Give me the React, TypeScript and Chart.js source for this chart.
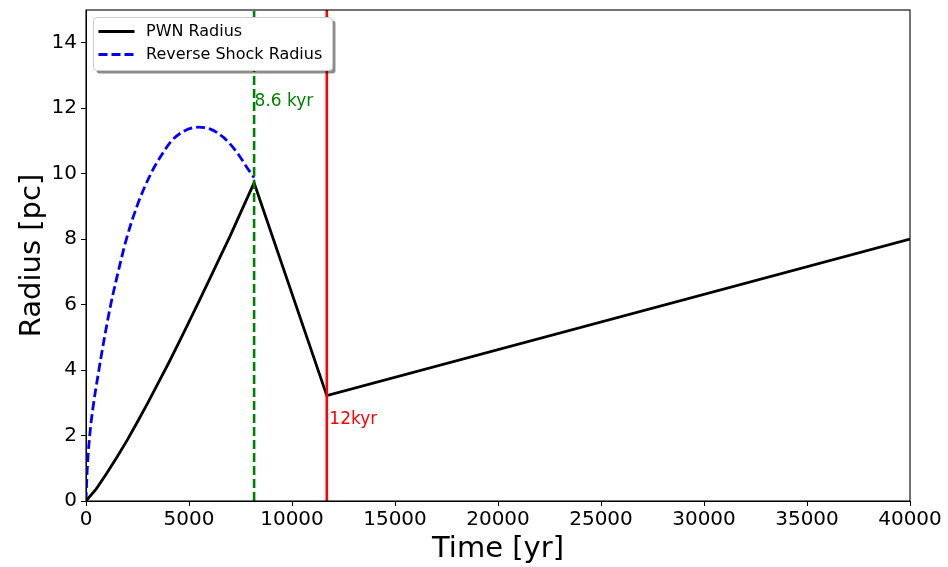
import React, { useEffect, useRef } from "react";
import { Chart, registerables } from "chart.js";

Chart.register(...registerables);

// ---- data ----
const pwnTime = [0, 500, 1000, 1500, 2000, 2500, 3000, 3500, 4000, 4500, 5000, 5500, 6000, 6500, 7000, 7500, 8160, 11690, 40000];
const pwnRadius = [0, 0.37, 0.84, 1.34, 1.86, 2.42, 3.0, 3.6, 4.2, 4.83, 5.47, 6.12, 6.78, 7.44, 8.1, 8.8, 9.72, 3.22, 8.0];

const rsTime = [0, 50, 180, 350, 560, 870, 1200, 1450, 1960, 2500, 3150, 3700, 4150, 4700, 5450, 6040, 6690, 7340, 7820, 8160];
const rsRadius = [0, 0.85, 2.0, 2.9, 3.75, 4.9, 6.0, 6.7, 8.0, 9.05, 10.0, 10.6, 11.0, 11.28, 11.42, 11.36, 11.1, 10.64, 10.18, 9.88];

const greenLineTime = 8160;
const redLineTime = 11690;
const greenLabel = "8.6 kyr";
const greenLabelY = 12.2;
const redLabel = "12kyr";
const redLabelY = 2.48;

const xTicks = [0, 5000, 10000, 15000, 20000, 25000, 30000, 35000, 40000];
const yTicks = [0, 2, 4, 6, 8, 10, 12, 14];
const xTitle = "Time [yr]";
const yTitle = "Radius [pc]";
const legendLabels = ["PWN Radius", "Reverse Shock Radius"];

const FONT = "'DejaVu Sans', 'Liberation Sans', sans-serif";

export default function App() {
  const ref = useRef<HTMLCanvasElement | null>(null);

  useEffect(() => {
    const canvas = ref.current;
    if (!canvas) return;

    const overlay = {
      id: "overlay",
      afterDraw(chart: any) {
        const { ctx, chartArea, scales } = chart;
        const xs = scales.x;
        const ys = scales.y;
        ctx.save();
        // frame
        ctx.strokeStyle = "#000";
        ctx.lineWidth = 1.1;
        ctx.strokeRect(chartArea.left, chartArea.top, chartArea.right - chartArea.left, chartArea.bottom - chartArea.top);

        // annotations
        ctx.font = `17px ${FONT}`;
        ctx.textBaseline = "middle";
        ctx.textAlign = "left";
        ctx.fillStyle = "#008000";
        ctx.fillText(greenLabel, xs.getPixelForValue(greenLineTime) + 0.5, ys.getPixelForValue(greenLabelY));
        ctx.fillStyle = "#ff0000";
        ctx.fillText(redLabel, xs.getPixelForValue(redLineTime) + 2.5, ys.getPixelForValue(redLabelY));

        // axis titles
        ctx.fillStyle = "#000";
        ctx.font = `29px ${FONT}`;
        ctx.textAlign = "center";
        ctx.textBaseline = "middle";
        ctx.fillText(xTitle, (chartArea.left + chartArea.right) / 2, 549);
        ctx.save();
        ctx.translate(32, (chartArea.top + chartArea.bottom) / 2);
        ctx.rotate(-Math.PI / 2);
        ctx.fillText(yTitle, 0, 0);
        ctx.restore();

        // legend
        const lx = 93.5, ly = 17.5, lw = 239, lh = 53, r = 3;
        const rr = (x: number, y: number, w: number, h: number) => {
          ctx.beginPath();
          ctx.moveTo(x + r, y);
          ctx.lineTo(x + w - r, y);
          ctx.quadraticCurveTo(x + w, y, x + w, y + r);
          ctx.lineTo(x + w, y + h - r);
          ctx.quadraticCurveTo(x + w, y + h, x + w - r, y + h);
          ctx.lineTo(x + r, y + h);
          ctx.quadraticCurveTo(x, y + h, x, y + h - r);
          ctx.lineTo(x, y + r);
          ctx.quadraticCurveTo(x, y, x + r, y);
          ctx.closePath();
        };
        rr(lx + 3, ly + 3, lw, lh);
        ctx.fillStyle = "rgba(0,0,0,0.45)";
        ctx.fill();
        rr(lx, ly, lw, lh);
        ctx.fillStyle = "#ffffff";
        ctx.fill();
        ctx.strokeStyle = "#cccccc";
        ctx.lineWidth = 1;
        ctx.stroke();

        const row1 = 31.5, row2 = 54.5;
        ctx.lineWidth = 2.8;
        ctx.strokeStyle = "#000";
        ctx.setLineDash([]);
        ctx.beginPath();
        ctx.moveTo(98.5, row1);
        ctx.lineTo(134.5, row1);
        ctx.stroke();
        ctx.strokeStyle = "#0000ff";
        ctx.setLineDash([9, 4]);
        ctx.beginPath();
        ctx.moveTo(98.5, row2);
        ctx.lineTo(134.5, row2);
        ctx.stroke();
        ctx.setLineDash([]);
        ctx.fillStyle = "#000";
        ctx.font = `16px ${FONT}`;
        ctx.textAlign = "left";
        ctx.textBaseline = "middle";
        ctx.fillText(legendLabels[0], 146, row1);
        ctx.fillText(legendLabels[1], 146, row2);
        ctx.restore();
      },
    };

    const chart = new Chart(canvas, {
      type: "line",
      data: {
        datasets: [
          {
            label: "green",
            data: [{ x: greenLineTime, y: 0 }, { x: greenLineTime, y: 15 }],
            borderColor: "#008000",
            borderWidth: 2.6,
            borderDash: [9, 4],
            pointRadius: 0,
            tension: 0,
          },
          {
            label: "red",
            data: [{ x: redLineTime, y: 0 }, { x: redLineTime, y: 15 }],
            borderColor: "#ff0000",
            borderWidth: 2.6,
            pointRadius: 0,
            tension: 0,
          },
          {
            label: legendLabels[0],
            data: pwnTime.map((t, i) => ({ x: t, y: pwnRadius[i] })),
            borderColor: "#000000",
            borderWidth: 2.8,
            pointRadius: 0,
            tension: 0,
          },
          {
            label: legendLabels[1],
            data: rsTime.map((t, i) => ({ x: t, y: rsRadius[i] })),
            borderColor: "#0000ff",
            borderWidth: 2.8,
            borderDash: [9, 4],
            pointRadius: 0,
            cubicInterpolationMode: "monotone",
          },
        ],
      },
      options: {
        animation: false,
        responsive: false,
        devicePixelRatio: 1,
        layout: { padding: { top: 10, right: 38, left: 0, bottom: 0 } },
        plugins: { legend: { display: false }, tooltip: { enabled: false } },
        scales: {
          x: {
            type: "linear",
            min: 0,
            max: 40000,
            afterFit: (s: any) => { s.height = 66; s.paddingLeft = 0; s.paddingRight = 0; },
            afterBuildTicks: (s: any) => { s.ticks = xTicks.map((v) => ({ value: v })); },
            ticks: {
              font: { family: FONT, size: 20 },
              color: "#000",
              padding: 2,
              maxRotation: 0,
              autoSkip: false,
              callback: (v: any) => String(v),
            },
            grid: { drawOnChartArea: false, drawTicks: true, tickLength: 5, color: "#000", lineWidth: 1 },
            border: { display: true, color: "#000", width: 1 },
          },
          y: {
            type: "linear",
            min: 0,
            max: 15,
            afterFit: (s: any) => { s.width = 86; s.paddingTop = 0; s.paddingBottom = 0; },
            afterBuildTicks: (s: any) => { s.ticks = yTicks.map((v) => ({ value: v })); },
            ticks: {
              font: { family: FONT, size: 20 },
              color: "#000",
              padding: 4,
              autoSkip: false,
              callback: (v: any) => String(v),
            },
            grid: { drawOnChartArea: false, drawTicks: true, tickLength: 5, color: "#000", lineWidth: 1 },
            border: { display: true, color: "#000", width: 1 },
          },
        },
      },
      plugins: [overlay],
    } as any);

    return () => chart.destroy();
  }, []);

  return (
    <div style={{ position: "absolute", left: 0, top: 0, width: 948, height: 567, background: "#fff" }}>
      <canvas ref={ref} width={948} height={567} style={{ width: 948, height: 567, display: "block" }} />
    </div>
  );
}
